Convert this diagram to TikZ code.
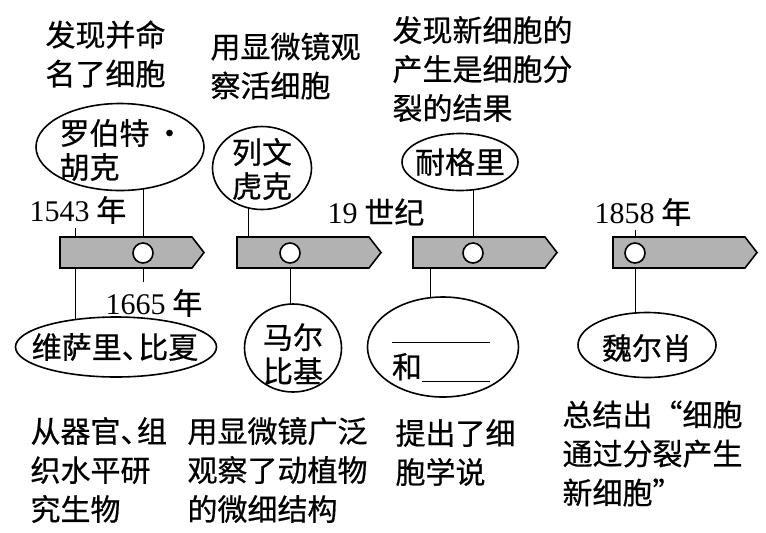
\documentclass[tikz,border=0pt]{standalone}
\usepackage{fontspec}
\setmainfont{Liberation Serif}
\newfontfamily\cjk{Noto Sans CJK SC}[FakeBold=0.6]
\usetikzlibrary{positioning,shapes.geometric,backgrounds,calc}

\begin{document}
\begin{tikzpicture}[x=0.5pt,y=-0.5pt,line width=0.5pt,
  seg/.style={draw,line width=0.8pt,fill=black!30},
  dot/.style={circle,draw,line width=0.8pt,fill=white,inner sep=0pt,minimum size=10pt},
  ell/.style={ellipse,draw,line width=0.8pt,fill=white,inner sep=0pt},
  txt/.style={inner sep=0pt,align=left,font=\fontsize{15}{19.5}\selectfont\cjk},
  etxt/.style={txt,font=\fontsize{15}{17}\selectfont\cjk},
  yr/.style={inner sep=0pt,font=\fontsize{15}{18}\selectfont\cjk}]
\useasboundingbox (0,0) rectangle (766,532);

% time line
\foreach \x in {60,237,413,613}
  \draw[seg] (\x,237) -- ++(132,0) -- ++(12,15.5) -- ++(-12,15.5) -- ++(-132,0) -- cycle;
\node[dot] (c1) at (143,253) {};
\node[dot] (c2) at (290,253) {};
\node[dot] (c3) at (473,253) {};
\node[dot] (c4) at (635,253) {};
\coordinate (t1543) at (75,228);
\coordinate (t1665) at (143,282);
\coordinate (lwfoot) at (248,253);
\coordinate (hefoot) at (430,253);
\coordinate (t1858) at (635,230);

% years
\node[yr] (y1543) at (78,210) {{\rmfamily 1543} 年};
\node[yr] (y1665) at (154,303) {{\rmfamily 1665} 年};
\node[yr] (y19) at (376,212) {{\rmfamily 19} 世纪};
\node[yr] (y1858) at (643,212) {{\rmfamily 1858} 年};

% scientists
\node[ell,minimum width=84pt,minimum height=43.5pt] (hooke) at (120,147) {};
\node[etxt] (hooke-t) at (122,150) {罗伯特\,·\\胡克};
\node[ell,minimum width=49.5pt,minimum height=41.5pt] (lw) at (262,168) {};
\node[etxt] (lw-t) at (262,169) {列文\\虎克};
\node[ell,minimum width=58pt,minimum height=28.5pt] (ngl) at (460,162) {};
\node[etxt] (ngl-t) at (ngl) {耐格里};
\node[ell,minimum width=100.5pt,minimum height=30pt] (vs) at (116,347) {};
\node[etxt] (vs-t) at (115,347) {维萨里、\kern-0.45em 比夏};
\node[ell,minimum width=48.5pt,minimum height=44pt] (mb) at (293,348) {};
\node[etxt,align=center] (mb-t) at (293,354) {马尔\\比基};
\node[ell,minimum width=75.5pt,minimum height=50pt] (he) at (443,347) {};
\node[txt] (he-t) at (441,348) {\vphantom{和}\rule[-2pt]{49pt}{0.6pt}\\和\rule[-2pt]{34pt}{0.6pt}};
\node[ell,minimum width=69pt,minimum height=32.5pt] (wex) at (647,345) {};
\node[etxt] (wex-t) at (647,348) {魏尔肖};

% achievements
\node[txt,anchor=west] (a1) at (45,54) {发现并命\\名了细胞};
\node[txt,anchor=west] (a2) at (210,66) {用显微镜观\\察活细胞};
\node[txt,anchor=west] (a3) at (392,69) {发现新细胞的\\产生是细胞分\\裂的结果};
\node[txt,anchor=west] (a4) at (30,470) {从器官、\kern-0.45em 组\\织水平研\\究生物};
\node[txt,anchor=west] (a5) at (187,470) {用显微镜广泛\\观察了动植物\\的微细结构};
\node[txt,anchor=west] (a6) at (395,452.5) {提出了细\\胞学说};
\node[txt,anchor=west] (a7) at (562,453.5) {总结出“细胞\\通过分裂产生\\新细胞”};

\begin{scope}[on background layer]
\draw (t1543) -- (t1543 |- vs);
\draw (c1 |- hooke) -- (t1665);
\draw (lwfoot |- lw) -- (lwfoot);
\draw (c2) -- (c2 |- mb);
\draw (c3 |- ngl) -- (c3);
\draw (hefoot) -- (hefoot |- he);
\draw (t1858) -- (t1858 |- wex);
\end{scope}
\end{tikzpicture}
\end{document}
